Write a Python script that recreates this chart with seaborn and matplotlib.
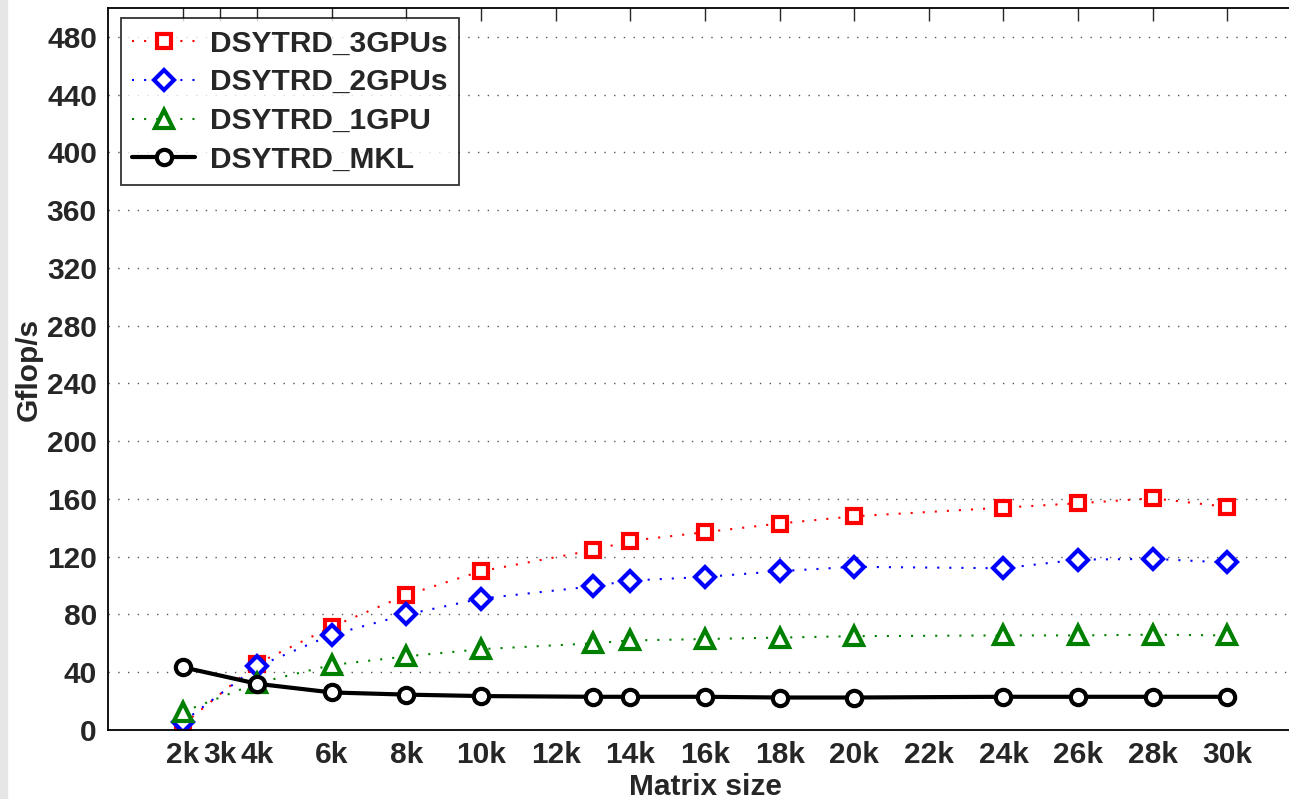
import matplotlib
matplotlib.use("Agg")
import matplotlib.pyplot as plt
import seaborn as sns
import pandas as pd

# Matrix sizes (thousands) and measured performance (Gflop/s)
sizes = [2, 4, 6, 8, 10, 13, 14, 16, 18, 20, 24, 26, 28, 30]
gpu3 = [3.5, 46, 71.5, 93.5, 110, 124.5, 131, 137, 143, 148, 154, 157, 160.5, 154.5]
gpu2 = [5.5, 44, 66, 80, 91, 99.5, 103.5, 106, 110, 113, 112, 118, 118.5, 116]
gpu1 = [12.5, 32.5, 45, 51, 56, 60, 62, 63, 64, 65, 65.5, 65.5, 66, 65.5]
mkl = [43.5, 32, 26, 24.5, 23.5, 23, 23, 23, 22.5, 22.5, 23, 23, 23, 23]

series_names = ["DSYTRD_3GPUs", "DSYTRD_2GPUs", "DSYTRD_1GPU", "DSYTRD_MKL"]
x_ticks = [2, 3, 4, 6, 8, 10, 12, 14, 16, 18, 20, 22, 24, 26, 28, 30]
x_tick_labels = [f"{t}k" for t in x_ticks]
y_ticks = list(range(0, 481, 40))

sns.set_style("white")
plt.rcParams["font.family"] = ["Liberation Sans", "DejaVu Sans"]
plt.rcParams["font.weight"] = "bold"

FS = 21.5

fig = plt.figure(figsize=(12.89, 7.99), dpi=100)
ax = fig.add_axes([108 / 1289, 69 / 799, 1194 / 1289, 722 / 799])

# light grey strip on the left edge of the original screenshot
fig.patches.append(plt.Rectangle((0, 0), 7 / 1289, 1, transform=fig.transFigure,
                                 color="#e6e6e6", zorder=-1))

dots = (0, (1, 4.8))
styles = {
    "DSYTRD_3GPUs": dict(color="red", marker="s", ms=10, ls=dots, lw=1.5),
    "DSYTRD_2GPUs": dict(color="blue", marker="D", ms=10, ls=dots, lw=1.5),
    "DSYTRD_1GPU": dict(color="green", marker="^", ms=13, ls=dots, lw=1.5),
    "DSYTRD_MKL": dict(color="black", marker="o", ms=11, ls="-", lw=3),
}

for name, vals in zip(series_names, [gpu3, gpu2, gpu1, mkl]):
    df = pd.DataFrame({"size": sizes, "gflops": vals})
    st = styles[name]
    sns.lineplot(data=df, x="size", y="gflops", ax=ax, label=name,
                 color=st["color"], marker=st["marker"], markersize=st["ms"],
                 linestyle=st["ls"], linewidth=st["lw"],
                 markerfacecolor="white", markeredgecolor=st["color"],
                 markeredgewidth=3)

ax.set_xlim(0, 32)
ax.set_ylim(0, 500)
ax.set_xticks(x_ticks)
ax.set_xticklabels(x_tick_labels)
ax.set_yticks(y_ticks)
ax.tick_params(axis="both", direction="in", labelsize=FS, length=9, width=1,
               top=True, right=True, pad=8)
for lbl in ax.get_xticklabels() + ax.get_yticklabels():
    lbl.set_fontweight("bold")

ax.yaxis.grid(True, linestyle=(0, (1, 6)), color="#555555", linewidth=1)
ax.xaxis.grid(False)
for sp in ax.spines.values():
    sp.set_linewidth(1.3)
    sp.set_color("black")

ax.set_xlabel("Matrix size", fontsize=FS, fontweight="bold", labelpad=3)
ax.set_ylabel("Gflop/s", fontsize=FS, fontweight="bold", labelpad=3)

leg = ax.legend(loc="upper left", bbox_to_anchor=(0.011, 0.986), fontsize=FS,
                frameon=True, fancybox=False, handlelength=2.1,
                borderpad=0.38, labelspacing=0.36, handletextpad=0.5,
                borderaxespad=0)
leg.get_frame().set_edgecolor("black")
leg.get_frame().set_linewidth(1.3)
for t in leg.get_texts():
    t.set_fontweight("bold")

fig.savefig("out.png", dpi=100)
